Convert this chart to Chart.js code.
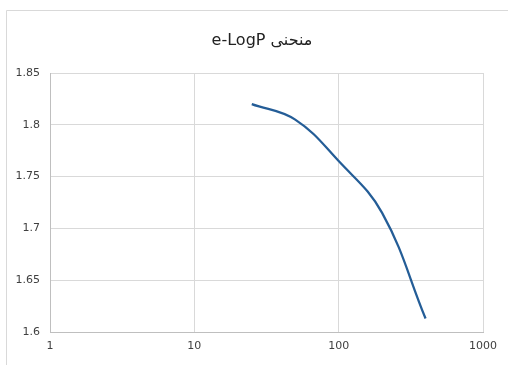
<!DOCTYPE html>
<html>
<head>
<meta charset="utf-8">
<script src="https://cdn.jsdelivr.net/npm/chart.js@4"></script>
<style>
  html, body { margin: 0; padding: 0; background: #fff; }
  #wrap { width: 508px; height: 365px; position: relative; }
</style>
</head>
<body>
<div id="wrap"><canvas id="chart" width="508" height="365"></canvas></div>
<script>
// data
const pressure = [25, 50, 100, 200, 400];
const voidRatio = [1.82, 1.805, 1.765, 1.715, 1.613];
const xTicks = [1, 10, 100, 1000];
const yTicks = [1.6, 1.65, 1.7, 1.75, 1.8, 1.85];
const titleText = 'e-LogP منحنی';

const points = pressure.map((p, i) => ({ x: p, y: voidRatio[i] }));

// light frame round the chart area + the title, like the spreadsheet one
const framePlugin = {
  id: 'frame',
  beforeDraw(chart) {
    const ctx = chart.ctx;
    ctx.save();
    ctx.fillStyle = '#fff';
    ctx.fillRect(0, 0, chart.width, chart.height);
    ctx.strokeStyle = '#d9d9d9';
    ctx.lineWidth = 1;
    ctx.beginPath();
    ctx.moveTo(6.5, chart.height);
    ctx.lineTo(6.5, 10.5);
    ctx.lineTo(chart.width, 10.5);
    ctx.stroke();
    ctx.font = '16px "DejaVu Sans"';
    ctx.fillStyle = '#222';
    ctx.textAlign = 'center';
    ctx.textBaseline = 'middle';
    ctx.fillText(titleText, 262, 41);
    ctx.restore();
  }
};

new Chart(document.getElementById('chart'), {
  type: 'scatter',
  data: {
    datasets: [{
      data: points,
      showLine: true,
      borderColor: '#245d97',
      borderWidth: 2.25,
      pointRadius: 0,
      tension: 0.4,
      fill: false
    }]
  },
  options: {
    responsive: false,
    animation: false,
    layout: { padding: { left: 0, right: 25, top: 73, bottom: 0 } },
    plugins: {
      legend: { display: false },
      tooltip: { enabled: false },
      title: { display: false }
    },
    scales: {
      x: {
        type: 'logarithmic',
        min: 1,
        max: 1000,
        afterBuildTicks: (axis) => { axis.ticks = xTicks.map(v => ({ value: v })); },
        afterFit: (axis) => { axis.height = 33; },
        ticks: {
          color: '#404040',
          font: { family: 'DejaVu Sans', size: 11 },
          padding: 8,
          maxRotation: 0,
          callback: (v) => String(v)
        },
        grid: { color: '#d9d9d9', lineWidth: 1, drawTicks: false },
        border: { color: '#bfbfbf', width: 1 }
      },
      y: {
        min: 1.6,
        max: 1.85,
        afterBuildTicks: (axis) => { axis.ticks = yTicks.map(v => ({ value: v })); },
        afterFit: (axis) => { axis.width = 50; },
        ticks: {
          color: '#404040',
          font: { family: 'DejaVu Sans', size: 11 },
          padding: 10,
          callback: (v) => String(Math.round(v * 100) / 100)
        },
        grid: { color: '#d9d9d9', lineWidth: 1, drawTicks: false },
        border: { color: '#bfbfbf', width: 1 }
      }
    }
  },
  plugins: [framePlugin]
});
</script>
</body>
</html>
